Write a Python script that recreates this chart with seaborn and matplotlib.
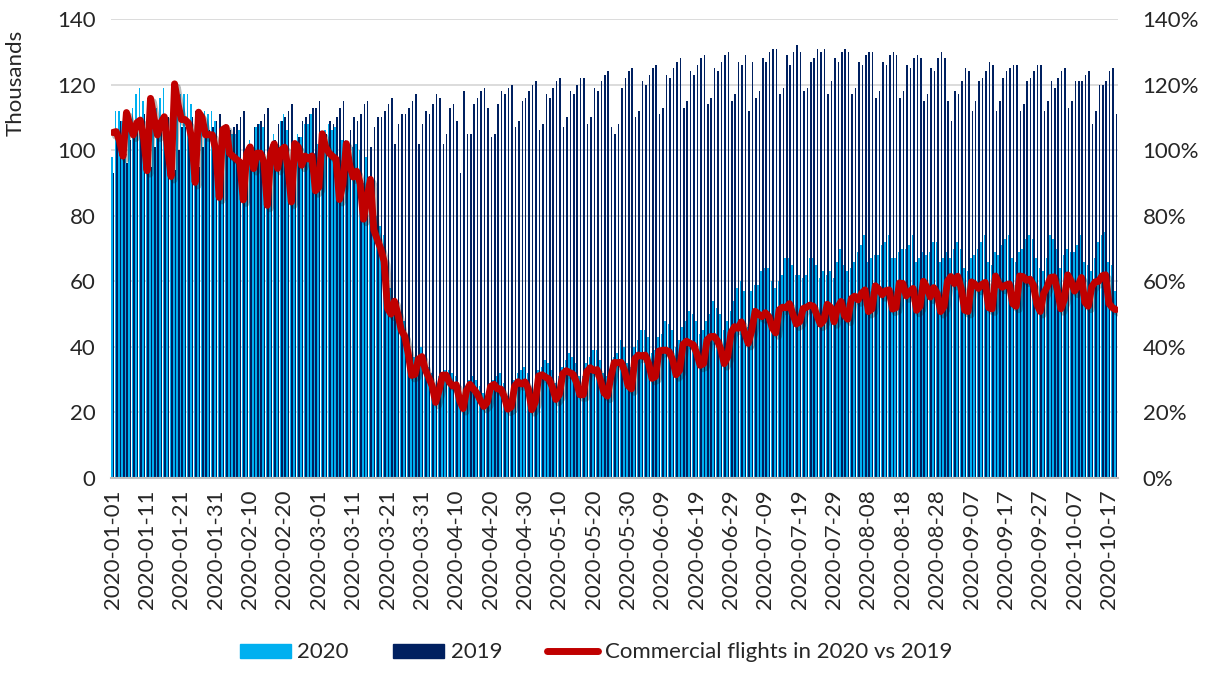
import pandas as pd
import matplotlib
matplotlib.use('Agg')
import matplotlib.pyplot as plt
import matplotlib.patheffects as pe
from matplotlib.ticker import PercentFormatter
from matplotlib.patches import Patch
from matplotlib.lines import Line2D
import seaborn as sns

# Daily commercial flights (thousands), 2020-01-01 .. 2020-10-19, one row per week
flights_2019 = [
    93, 106, 109, 111, 96, 103, 108,
    108, 109, 111, 112, 95, 101, 108,
    107, 108, 110, 112, 94, 100, 107,
    107, 108, 110, 112, 95, 101, 107,
    106, 107, 109, 111, 96, 101, 106,
    107, 108, 110, 112, 97, 102, 107,
    108, 109, 111, 113, 98, 103, 108,
    109, 110, 112, 114, 99, 104, 109,
    110, 111, 113, 113, 115, 100, 105,
    109, 108, 110, 113, 115, 101, 106,
    110, 109, 111, 114, 115, 101, 107,
    110, 110, 112, 114, 116, 102, 108,
    111, 111, 113, 115, 117, 102, 108,
    112, 111, 114, 117, 116, 102, 105,
    113, 114, 109, 93, 118, 105, 105,
    114, 116, 118, 119, 113, 104, 105,
    114, 118, 117, 119, 120, 107, 109,
    115, 116, 118, 120, 121, 106, 108,
    117, 116, 119, 121, 122, 107, 110,
    118, 117, 120, 122, 122, 108, 110,
    119, 118, 121, 123, 124, 107, 105,
    108, 119, 122, 124, 125, 110, 112,
    121, 120, 123, 125, 126, 111, 113,
    123, 122, 125, 127, 128, 113, 115,
    124, 123, 126, 128, 129, 114, 116,
    125, 124, 127, 129, 130, 115, 117,
    127, 126, 129, 112, 127, 116, 118,
    128, 127, 130, 131, 131, 117, 119,
    129, 126, 130, 132, 130, 118, 119,
    127, 128, 131, 130, 131, 117, 121,
    128, 127, 130, 131, 130, 117, 119,
    127, 126, 129, 130, 130, 116, 118,
    127, 126, 129, 130, 129, 116, 118,
    126, 125, 128, 129, 128, 115, 117,
    125, 124, 128, 130, 128, 115, 109,
    118, 117, 121, 125, 124, 112, 115,
    121, 122, 124, 127, 126, 112, 115,
    122, 124, 125, 126, 126, 112, 114,
    121, 122, 124, 126, 126, 112, 115,
    121, 119, 122, 124, 125, 113, 115,
    121, 121, 121, 123, 124, 108, 112,
    120, 120, 121, 124, 125, 111,
]

flights_2020 = [
    98, 112, 112, 109, 107, 111, 113,
    117, 119, 115, 105, 110, 111, 113,
    116, 119, 110, 103, 113, 114, 117,
    117, 117, 114, 101, 106, 111, 112,
    111, 112, 109, 95, 102, 108, 105,
    105, 105, 106, 95, 96, 103, 101,
    107, 108, 107, 94, 97, 105, 102,
    109, 111, 106, 96, 101, 105, 104,
    108, 108, 111, 99, 102, 105, 106,
    108, 106, 107, 96, 103, 103, 101,
    101, 102, 100, 90, 98, 92, 81,
    80, 77, 74, 59, 58, 55, 54,
    50, 48, 43, 36, 37, 37, 40,
    37, 34, 32, 27, 31, 32, 33,
    33, 32, 31, 22, 25, 28, 30,
    31, 30, 28, 26, 26, 29, 30,
    31, 32, 29, 25, 26, 30, 32,
    33, 34, 32, 25, 28, 33, 34,
    36, 35, 33, 29, 31, 34, 36,
    38, 37, 35, 31, 31, 35, 37,
    39, 39, 36, 32, 31, 33, 37,
    38, 42, 40, 35, 34, 40, 42,
    45, 45, 43, 38, 39, 43, 44,
    48, 47, 45, 40, 42, 46, 48,
    51, 50, 48, 44, 45, 48, 50,
    54, 52, 50, 45, 48, 51, 54,
    58, 60, 57, 46, 57, 59, 59,
    63, 64, 64, 60, 58, 60, 62,
    67, 67, 65, 62, 62, 61, 62,
    67, 67, 65, 61, 63, 62, 63,
    61, 66, 70, 65, 63, 64, 66,
    69, 71, 74, 66, 67, 68, 68,
    71, 72, 74, 67, 67, 69, 70,
    70, 71, 74, 66, 67, 69, 68,
    69, 72, 72, 66, 67, 69, 67,
    70, 72, 70, 64, 63, 67, 68,
    70, 72, 74, 66, 65, 69, 68,
    71, 73, 74, 67, 66, 69, 70,
    73, 74, 73, 67, 64, 63, 67,
    74, 73, 70, 64, 68, 70, 69,
    69, 71, 74, 66, 65, 63, 67,
    72, 74, 75, 66, 65, 57,
]

n = len(flights_2020)
dates = list(pd.date_range('2020-01-01', periods=n).strftime('%Y-%m-%d'))
ratio = [a / b for a, b in zip(flights_2020, flights_2019)]

df = pd.DataFrame({
    'date': dates * 2,
    'flights': flights_2020 + flights_2019,
    'year': ['2020'] * n + ['2019'] * n,
})

sns.set_theme(style='white')
plt.rcParams['font.family'] = ['Lato', 'DejaVu Sans']

fig, ax = plt.subplots(figsize=(12.16, 6.79), dpi=100)
fig.subplots_adjust(left=0.0913, right=0.919, top=0.972, bottom=0.296)

sns.barplot(data=df, x='date', y='flights', hue='year', hue_order=['2020', '2019'],
            palette={'2020': '#00B0F0', '2019': '#002060'}, saturation=1,
            width=0.9, linewidth=0, errorbar=None, legend=False, ax=ax)

# thin bars: turn off antialiasing so they keep their full colour
for p in ax.patches:
    p.set_antialiased(False)

ax.set_xlim(-0.5, n - 0.5)
ax.set_ylim(0, 140)
ax.set_yticks(range(0, 141, 20))
ax.grid(axis='y', color='#d9d9d9', lw=1.3)
ax.set_axisbelow(True)
ax.set_xlabel('')
ax.set_ylabel('Thousands', fontsize=16)
ax.yaxis.set_label_coords(-0.085, 0.86)

ax.set_xticks(range(n))
ax.set_xticklabels([d if i % 10 == 0 else '' for i, d in enumerate(dates)], rotation=90)
ax.tick_params(axis='x', length=6, width=0.8, color='#c8c8c8', pad=2, labelsize=16)
ax.tick_params(axis='y', length=0, pad=11, labelsize=16)
for s in ['top', 'left', 'right']:
    ax.spines[s].set_visible(False)
ax.spines['bottom'].set_color('#bfbfbf')
ax.spines['bottom'].set_linewidth(1.5)

ax2 = ax.twinx()
sns.lineplot(x=list(range(n)), y=ratio, ax=ax2, color='#C00000', lw=5)
ax2.lines[0].set_path_effects([pe.SimpleLineShadow(offset=(2, -2.5), alpha=0.3), pe.Normal()])
ax2.set_ylim(0, 1.4)
ax2.set_yticks([i / 10 for i in range(0, 15, 2)])
ax2.yaxis.set_major_formatter(PercentFormatter(1.0, decimals=0))
ax2.tick_params(axis='y', length=0, pad=18, labelsize=16)
for s in ax2.spines.values():
    s.set_visible(False)
ax2.set_xlim(-0.5, n - 0.5)

handles = [Patch(color='#00B0F0'), Patch(color='#002060'),
           Line2D([], [], color='#C00000', lw=5)]
fig.legend(handles, ['2020', '2019', 'Commercial flights in 2020 vs 2019'],
           loc='lower center', bbox_to_anchor=(0.49, -0.005), ncol=3, frameon=False,
           fontsize=16, handlelength=2.3, handleheight=0.6, columnspacing=2.0,
           handletextpad=0.3)

fig.savefig('out.png', dpi=100)
